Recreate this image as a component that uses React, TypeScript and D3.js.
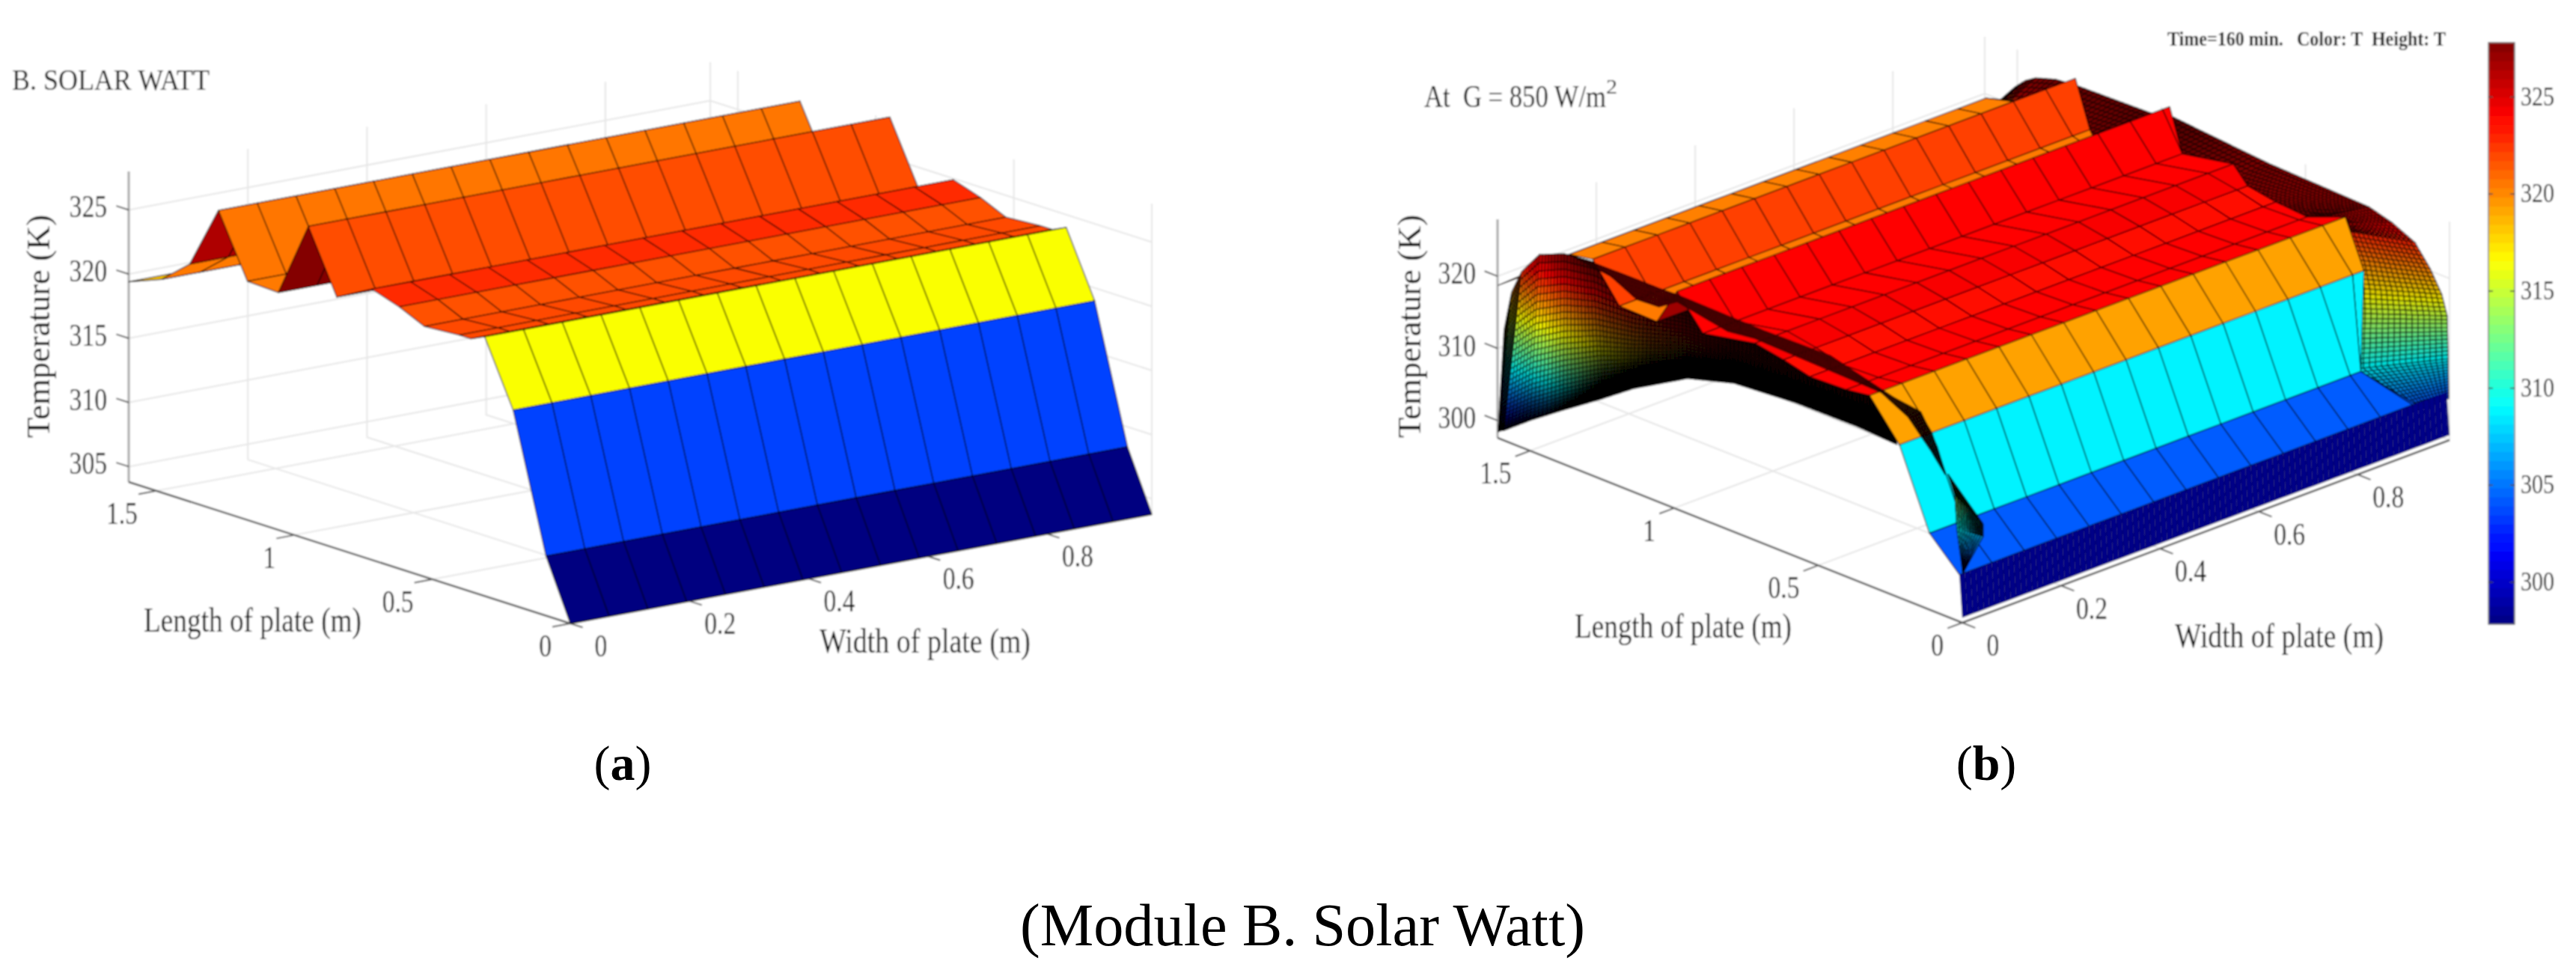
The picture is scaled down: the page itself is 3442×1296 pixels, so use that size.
import { useEffect, useRef } from "react";
import * as d3 from "d3";

type Pt3 = number[];

const lengthTicks = [0, 0.5, 1, 1.5];
const widthTicks = [0, 0.2, 0.4, 0.6, 0.8];
const tempTicksA = [305, 310, 315, 320, 325];
const tempTicksB = [300, 310, 320];
const colorbarTicks = [300, 305, 310, 315, 320, 325];

// panel (a): temperature along the plate length, one row per mesh line
const aLength = [0, 0.088, 0.207, 0.31, 0.36, 0.403, 0.529, 0.62, 0.719, 0.846, 0.949, 1.058, 1.17, 1.275, 1.379, 1.482, 1.6];
const aTemp = [303.8, 308.45, 319, 324, 323.5, 323.5, 323.3, 324.2, 324.9, 323.4, 328.2, 322.3, 322.4, 327.2, 322.3, 320.4, 319.4];

// panel (b): coarse plate rows, far edge then near edge of each row
const bFarY = [1.61, 1.364, 1.283, 1.19, 1.06, 0.99, 0.9, 0.72, 0.62, 0.529, 0.403, 0.322, 0.218, 0.114, 0.01];
const bFarT = [318.8, 327, 327.6, 322.6, 322.5, 327.8, 323.4, 324.9, 324.2, 323.3, 323.5, 324, 318.8, 308.2, 304.1];
const bFarEnd = [0.5, 0.843, 0.977, 0.952, 0.9, 0.997, 0.97, 0.968, 0.939, 0.943, 0.933, 0.963, 0.94, 0.873, 0.986];
const bNearY = [1.364, 1.283, 1.19, 1.06, 0.99, 0.9, 0.72, 0.62, 0.529, 0.403, 0.322, 0.218, 0.114, 0.01, 0];
const bNearT = [327, 327.6, 322.6, 322.5, 327.8, 323.4, 324.9, 324.2, 323.3, 323.5, 324, 318.8, 308.2, 304.1, 298.3];
const bNearEnd = [0.5, 0.856, 0.952, 0.9, 0.997, 0.97, 0.968, 0.939, 0.943, 0.933, 0.963, 0.94, 0.873, 0.922, 0.986];
const bRowColor = [321, 320.3, 322.2, 320.5, 327, 324, 324, 324.3, 323.9, 324, 324, 319.3, 308.6, 304.1, 297.8];

// panel (b): fine side surfaces, read as edge profiles. The fine mesh only subdivides these to draw it.
const leftLowY = [1.611, 1.605, 1.59, 1.5, 1.384, 1.26, 1.142, 0.954, 0.793, 0.578, 0.363, 0.228];
const leftLowT = [298.5, 298.7, 299, 301.8, 305.1, 308.5, 311.9, 316.3, 318.2, 318.9, 319, 318.7];
const leftTopY = [1.59, 1.564, 1.529, 1.468, 1.382, 1.28, 1.13, 0.96, 0.79, 0.58, 0.37, 0.24];
const leftTopT = [313, 318.6, 322, 325.3, 326.8, 327.3, 326.5, 327, 327, 327, 327, 325.1];

const rightOuterY = [1.57, 1.54, 1.527, 1.506, 1.471, 1.436, 1.367, 1.298, 1.02, 0.97, 0.63, 0.28, 0.2, 0.12, 0.067, 0.027, 0.008, 0.005, 0.003];
const rightOuterT = [317.5, 319.7, 321.3, 322.7, 324.1, 325, 325.9, 326.2, 326.5, 327.2, 326, 325.5, 324.6, 323.1, 320.3, 317.4, 314.7, 308.8, 303.3];
const rightInnerX = [0.82, 0.82, 0.82, 0.82, 0.82, 0.82, 0.82, 0.82, 0.8, 0.8, 0.8, 0.93, 0.93, 0.94, 0.927, 0.91, 0.895, 0.857, 0.905];
const rightInnerY = [1.57, 1.54, 1.527, 1.506, 1.471, 1.436, 1.367, 1.298, 1.02, 0.97, 0.63, 0.36, 0.33, 0.304, 0.248, 0.204, 0.178, 0.12, 0.005];
const rightInnerT = [315, 316, 316.5, 317, 318, 319, 320, 322, 325, 325.5, 325, 324, 323.8, 323.1, 320.3, 317.4, 314.7, 308.8, 303.3];

const crestTopY = [1.366, 1.279, 1.15, 1.05, 0.99, 0.85, 0.688, 0.457, 0.236, 0.143, 0.086, 0.06];
const crestTopT = [327, 327.2, 327.3, 327.3, 327.4, 327.3, 327.2, 327.4, 325.1, 324.6, 320.7, 317.6];
const crestLowY = [1.366, 1.221, 1.131, 1.053, 0.99, 0.815, 0.722, 0.457, 0.283, 0.19, 0.109, 0.06];
const crestLowT = [326.9, 326.2, 324.4, 324.6, 326.3, 325, 325.5, 325.2, 325, 323.1, 319.6, 317.1];

const lensA: Pt3[] = [[0.006, 0.06, 317.1], [0.02, 0.06, 313.7], [0.024, 0.06, 309], [0.036, 0.06, 302.5]];
const lensB: Pt3[] = [[0.006, 0.06, 317.1], [0.077, 0.06, 308.4], [0.077, 0.06, 306.6], [0.036, 0.06, 302.5]];

const SERIF = "'Liberation Serif', serif";
const INK = "#000";

const lerp3 = (a: Pt3, b: Pt3, t: number): Pt3 => a.map((d, i) => d + (b[i] - d) * t);

function makePanel(o: any) {
  const sx = d3.scaleLinear().domain([0, o.xMax]).range([0, o.xVec[0]]);
  const sy = d3.scaleLinear().domain([0, o.xMax]).range([0, o.xVec[1]]);
  const lx = d3.scaleLinear().domain([0, o.yMax]).range([0, o.yVec[0]]);
  const ly = d3.scaleLinear().domain([0, o.yMax]).range([0, o.yVec[1]]);
  const tz = d3.scaleLinear().domain([o.zMin, o.zMax]).range([0, -o.zLen]);
  const project = (p: Pt3) => [o.origin[0] + sx(p[0]) + lx(p[1]), o.origin[1] + sy(p[0]) + ly(p[1]) + tz(p[2])];
  const span = o.zMax - o.zMin;
  const jet = d3
    .scaleLinear<string>()
    .domain([0, 1 / 8, 3 / 8, 5 / 8, 7 / 8, 1].map((t) => o.zMin + t * span))
    .range(["#000080", "#0000ff", "#00ffff", "#ffff00", "#ff0000", "#800000"])
    .clamp(true);
  return { ...o, project, jet };
}

function fitText(g: any, str: string, x: number, y: number, size: number, width: number, opts: any = {}) {
  return g
    .append("text")
    .attr("x", x)
    .attr("y", y)
    .attr("font-family", SERIF)
    .attr("font-size", size)
    .attr("fill", opts.fill || INK)
    .attr("font-weight", opts.weight || "normal")
    .attr("text-anchor", opts.anchor || "start")
    .attr("textLength", width)
    .attr("lengthAdjust", "spacingAndGlyphs")
    .attr("transform", opts.transform || null)
    .style("white-space", "pre")
    .text(str);
}

const digitsWidth = (s: string, size: number) =>
  d3.sum(s.split(""), (c) => (c === "." ? 0.25 : 0.5)) * size * 0.8;

function drawAxes(g: any, p: any) {
  const { project, xMax, yMax, zMin, zMax } = p;
  const seg = (a: Pt3[], stroke: string, w: number) =>
    g
      .append("path")
      .attr("d", d3.line()(a.map(project) as any))
      .attr("fill", "none")
      .attr("stroke", stroke)
      .attr("stroke-width", w);

  const grid = "#e6e6e6";
  p.zTicks.forEach((t: number) => seg([[0, yMax, t], [xMax, yMax, t], [xMax, 0, t]], grid, 2));
  widthTicks.forEach((t) => {
    seg([[t, 0, zMin], [t, yMax, zMin], [t, yMax, zMax]], grid, 2);
  });
  lengthTicks.forEach((t) => {
    seg([[0, t, zMin], [xMax, t, zMin], [xMax, t, zMax]], grid, 2);
  });
  seg([[xMax, 0, zMin], [xMax, 0, zMax]], grid, 2);
  seg([[xMax, 0, zMin], [xMax, yMax, zMin], [xMax, yMax, zMax]], grid, 2);

  seg([[0, yMax, zMin], [0, yMax, zMax]], "#a8a8a8", 3);
  seg([[0, 0, zMin], [0, yMax, zMin]], "#555", 2.5);
  seg([[0, 0, zMin], [xMax, 0, zMin]], "#555", 2.5);

  p.zTicks.forEach((t: number) => {
    seg([[0, yMax, t], [0, yMax + 0.045, t]], "#555", 2);
    const [, ty] = project([0, yMax, t]);
    const s = String(t);
    fitText(g, s, p.zLabelX, ty + 10, 42, digitsWidth(s, 42), { anchor: "end" });
  });
  widthTicks.forEach((t) => {
    seg([[t, 0, zMin], [t, -0.045, zMin]], "#555", 2);
    const [tx, ty] = project([t, 0, zMin]);
    const s = String(t);
    fitText(g, s, tx + 41, ty + 44, 42, digitsWidth(s, 42), { anchor: "middle" });
  });
  lengthTicks.forEach((t) => {
    seg([[0, t, zMin], [-0.03, t, zMin]], "#555", 2);
    const [tx, ty] = project([0, t, zMin]);
    const s = String(t);
    fitText(g, s, tx - 25, ty + 44, 42, digitsWidth(s, 42), { anchor: "end" });
  });

  fitText(g, "Temperature (K)", p.zTitleX, 585, 44, 298, {
    transform: `rotate(-90 ${p.zTitleX} 585)`,
  });
  fitText(g, "Length of plate (m)", p.lengthTitle[0], p.lengthTitle[1], 46, p.lengthTitle[2]);
  fitText(g, "Width of plate (m)", p.widthTitle[0], p.widthTitle[1], 46, p.widthTitle[2]);
}

// coarse plate, far row first so nearer rows paint over it
function drawRows(g: any, p: any, rows: any[], step: number) {
  const { project, jet } = p;
  const cells: any[] = [];
  rows.forEach((r) => {
    const w = r.dense ? step / 6 : step;
    const n = Math.ceil(Math.max(r.farEnd, r.nearEnd) / w);
    for (let i = n - 1; i >= 0; i--) {
      const a = i * w;
      const b = (i + 1) * w;
      cells.push({
        pts: [
          [Math.min(a, r.farEnd), r.farY, r.farT],
          [Math.min(b, r.farEnd), r.farY, r.farT],
          [Math.min(b, r.nearEnd), r.nearY, r.nearT],
          [Math.min(a, r.nearEnd), r.nearY, r.nearT],
        ].map(project),
        fill: jet(r.color),
        dense: r.dense,
      });
    }
  });
  g.append("g")
    .selectAll("path")
    .data(cells)
    .join("path")
    .attr("d", (c: any) => d3.line()(c.pts) + "Z")
    .attr("fill", (c: any) => c.fill)
    .attr("stroke", "#000")
    .attr("stroke-linejoin", "round")
    .attr("stroke-opacity", (c: any) => (c.dense ? 0.3 : 0.8))
    .attr("stroke-width", (c: any) => (c.dense ? 0.7 : 1.3));
}

// fine mesh between two edge profiles; cell size is in screen pixels
function drawMesh(g: any, p: any, edgeA: Pt3[], edgeB: Pt3[], o: any) {
  const { project, jet } = p;
  const dist = (a: Pt3, b: Pt3) => {
    const [x0, y0] = project(a);
    const [x1, y1] = project(b);
    return Math.hypot(x1 - x0, y1 - y0);
  };
  const v: { a: Pt3; b: Pt3 }[] = [];
  d3.range(edgeA.length - 1).forEach((s) => {
    const k = Math.max(1, Math.ceil(Math.max(dist(edgeA[s], edgeA[s + 1]), dist(edgeB[s], edgeB[s + 1])) / o.cell));
    d3.range(k).forEach((j) =>
      v.push({ a: lerp3(edgeA[s], edgeA[s + 1], j / k), b: lerp3(edgeB[s], edgeB[s + 1], j / k) })
    );
  });
  v.push({ a: edgeA[edgeA.length - 1], b: edgeB[edgeB.length - 1] });
  const us = d3.range(o.rows + 1).map((j) => Math.pow(j / o.rows, o.pow || 1));
  const cells: any[] = [];
  for (let i = 0; i < v.length - 1; i++) {
    for (let j = 0; j < o.rows; j++) {
      const q = [
        lerp3(v[i].a, v[i].b, us[j]),
        lerp3(v[i].a, v[i].b, us[j + 1]),
        lerp3(v[i + 1].a, v[i + 1].b, us[j + 1]),
        lerp3(v[i + 1].a, v[i + 1].b, us[j]),
      ];
      const t = d3.mean(q, (d) => d[2]) as number;
      cells.push({ pts: q.map(project), fill: o.color ? o.color(t, q[0][1], us[j]) : jet(t) });
    }
  }
  g.append("g")
    .selectAll("path")
    .data(cells)
    .join("path")
    .attr("d", (c: any) => d3.line()(c.pts) + "Z")
    .attr("fill", (c: any) => c.fill)
    .attr("stroke", "#000")
    .attr("stroke-opacity", o.lineOpacity)
    .attr("stroke-width", o.lineWidth);
}

function drawPanelA(g: any) {
  const p = makePanel({
    origin: [762, 833],
    xMax: 0.976,
    yMax: 1.6,
    zMin: 303.8,
    zMax: 328,
    xVec: [777, -146],
    yVec: [-590, -189],
    zLen: 415,
    zTicks: tempTicksA,
    zLabelX: 143,
    zTitleX: 66,
    lengthTitle: [192, 844, 291],
    widthTitle: [1095, 872, 282],
  });
  // panel (a) colour runs up to the ridge top, above the axis limit
  p.jet.domain([0, 1 / 8, 3 / 8, 5 / 8, 7 / 8, 1].map((t) => 303.8 + t * 24.5));
  drawAxes(g, p);
  const rows = d3
    .range(aLength.length - 2, -1, -1)
    .map((i) => ({
      farY: aLength[i + 1],
      farT: aTemp[i + 1],
      farEnd: p.xMax,
      nearY: aLength[i],
      nearT: aTemp[i],
      nearEnd: p.xMax,
      color: aTemp[i],
    }));
  drawRows(g, p, rows, p.xMax / 15);
  fitText(g, "B. SOLAR WATT", 16, 120, 40, 264);
}

function drawPanelB(g: any) {
  const p = makePanel({
    origin: [2622, 832],
    xMax: 0.986,
    yMax: 1.613,
    zMin: 297.6,
    zMax: 327.9,
    xVec: [651, -244],
    yVec: [-621, -247],
    zLen: 292,
    zTicks: tempTicksB,
    zLabelX: 1972,
    zTitleX: 1898,
    lengthTitle: [2104, 852, 290],
    widthTitle: [2906, 865, 279],
  });
  drawAxes(g, p);

  const rows = bFarY.map((_, i) => ({
    farY: bFarY[i],
    farT: bFarT[i],
    farEnd: bFarEnd[i],
    nearY: bNearY[i],
    nearT: bNearT[i],
    nearEnd: bNearEnd[i],
    color: bRowColor[i],
    dense: i === bFarY.length - 1,
  }));

  const rightIn = rightInnerY.map((y, i) => [rightInnerX[i], y, rightInnerT[i]]);
  const rightOut = rightOuterY.map((y, i) => [p.xMax, y, rightOuterT[i]]);
  const rightShade = d3.scaleLinear().domain([0.25, 0.9]).range([0.15, 0.45]).clamp(true);
  drawMesh(g, p, rightOut, rightIn, {
    cell: 7,
    rows: 16,
    lineOpacity: 0.75,
    lineWidth: 1.3,
    color: (t: number, y: number) => d3.interpolateRgb(p.jet(t), "#000")(rightShade(y)),
  });

  drawRows(g, p, rows.slice(0, 1), 0.0655);

  const leftLow = leftLowY.map((y, i) => [0, y, leftLowT[i]]);
  const leftTop = leftTopY.map((y, i) => [0, y, leftTopT[i]]);
  const leftShade = d3.scaleLinear().domain([0.3, 0.8, 1.1, 1.25, 1.45]).range([0.9, 0.85, 0.7, 0.5, 0]).clamp(true);
  drawMesh(g, p, leftLow, leftTop, {
    cell: 6,
    rows: 30,
    pow: 1.5,
    lineOpacity: 0.75,
    lineWidth: 1.4,
    color: (t: number, y: number, u: number) =>
      d3.interpolateRgb(p.jet(t + 1), "#000")(Math.min(1, leftShade(y) + Math.pow(1 - u, 5) * 0.9)),
  });

  drawRows(g, p, rows.slice(1), 0.0655);

  const dark = d3.scaleLinear().domain([0.05, 0.22, 0.4]).range([0.97, 0.85, 0.5]).clamp(true);
  const crestTop = crestTopY.map((y, i) => [0, y, crestTopT[i]]);
  const crestLow = crestLowY.map((y, i) => [0, y, crestLowT[i]]);
  drawMesh(g, p, crestLow, crestTop, {
    cell: 5,
    rows: 5,
    lineOpacity: 0.3,
    lineWidth: 0.8,
    color: (t: number, y: number) => d3.interpolateRgb(p.jet(Math.max(t, 327.5)), "#000")(dark(y)),
  });
  drawMesh(g, p, lensA, lensB, { cell: 2.5, rows: 10, lineOpacity: 0.85, lineWidth: 1.1 });

  // colour bar
  const barY = d3.scaleLinear().domain([297.84, 327.8]).range([834, 57]);
  const levels = d3.range(64).map((i) => 297.84 + ((i + 0.5) * (327.8 - 297.84)) / 64);
  const cb = d3
    .scaleLinear<string>()
    .domain([0, 1 / 8, 3 / 8, 5 / 8, 7 / 8, 1].map((t) => 297.84 + t * (327.8 - 297.84)))
    .range(["#000080", "#0000ff", "#00ffff", "#ffff00", "#ff0000", "#800000"]);
  const h = 834 - 57;
  g.append("g")
    .selectAll("rect")
    .data(levels)
    .join("rect")
    .attr("x", 3325)
    .attr("y", (d: number) => barY(d) - h / 128 - 0.5)
    .attr("width", 35)
    .attr("height", h / 64 + 1)
    .attr("fill", (d: number) => cb(d));
  g.append("rect")
    .attr("x", 3325)
    .attr("y", 57)
    .attr("width", 35)
    .attr("height", h)
    .attr("fill", "none")
    .attr("stroke", "#777")
    .attr("stroke-width", 1.5);
  colorbarTicks.forEach((t) => {
    const y = barY(t);
    [[3325, 3331], [3354, 3360]].forEach((e) =>
      g.append("line").attr("x1", e[0]).attr("x2", e[1]).attr("y1", y).attr("y2", y).attr("stroke", "#444").attr("stroke-width", 1.5)
    );
    fitText(g, String(t), 3368, y + 11, 36, 45);
  });

  fitText(g, "At  G = 850 W/m", 1903, 143, 42, 243);
  fitText(g, "2", 2146, 125, 28, 15);
  fitText(g, "Time=160 min.   Color: T  Height: T", 2896, 61, 28, 372, { weight: "bold", fill: "#111" });
}

function App() {
  const svgRef = useRef<SVGSVGElement>(null);

  useEffect(() => {
    const svg = d3.select(svgRef.current);
    svg.selectAll("*").remove();

    const defs = svg.append("defs");
    defs
      .append("filter")
      .attr("id", "soft")
      .attr("x", 0)
      .attr("y", 0)
      .attr("width", 1)
      .attr("height", 1)
      .append("feGaussianBlur")
      .attr("stdDeviation", 0.8);

    const charts = svg.append("g").attr("filter", "url(#soft)");
    charts.append("rect").attr("width", 3442).attr("height", 940).attr("fill", "#fff");
    drawPanelA(charts.append("g"));
    drawPanelB(charts.append("g"));

    const sub = (x: number, letter: string) => {
      const t = svg
        .append("text")
        .attr("x", x)
        .attr("y", 1042)
        .attr("font-family", SERIF)
        .attr("font-size", 66)
        .attr("text-anchor", "middle")
        .attr("fill", "#000");
      t.append("tspan").text("(");
      t.append("tspan").attr("font-weight", "bold").text(letter);
      t.append("tspan").text(")");
    };
    sub(832, "a");
    sub(2654, "b");

    svg
      .append("text")
      .attr("x", 1363)
      .attr("y", 1263)
      .attr("font-family", SERIF)
      .attr("font-size", 80)
      .attr("fill", "#000")
      .attr("textLength", 755)
      .attr("lengthAdjust", "spacingAndGlyphs")
      .text("(Module B. Solar Watt)");
  }, []);

  return (
    <svg
      ref={svgRef}
      width={3442}
      height={1296}
      viewBox="0 0 3442 1296"
      style={{ position: "absolute", left: 0, top: 0, background: "#fff" }}
    />
  );
}

export default App;
